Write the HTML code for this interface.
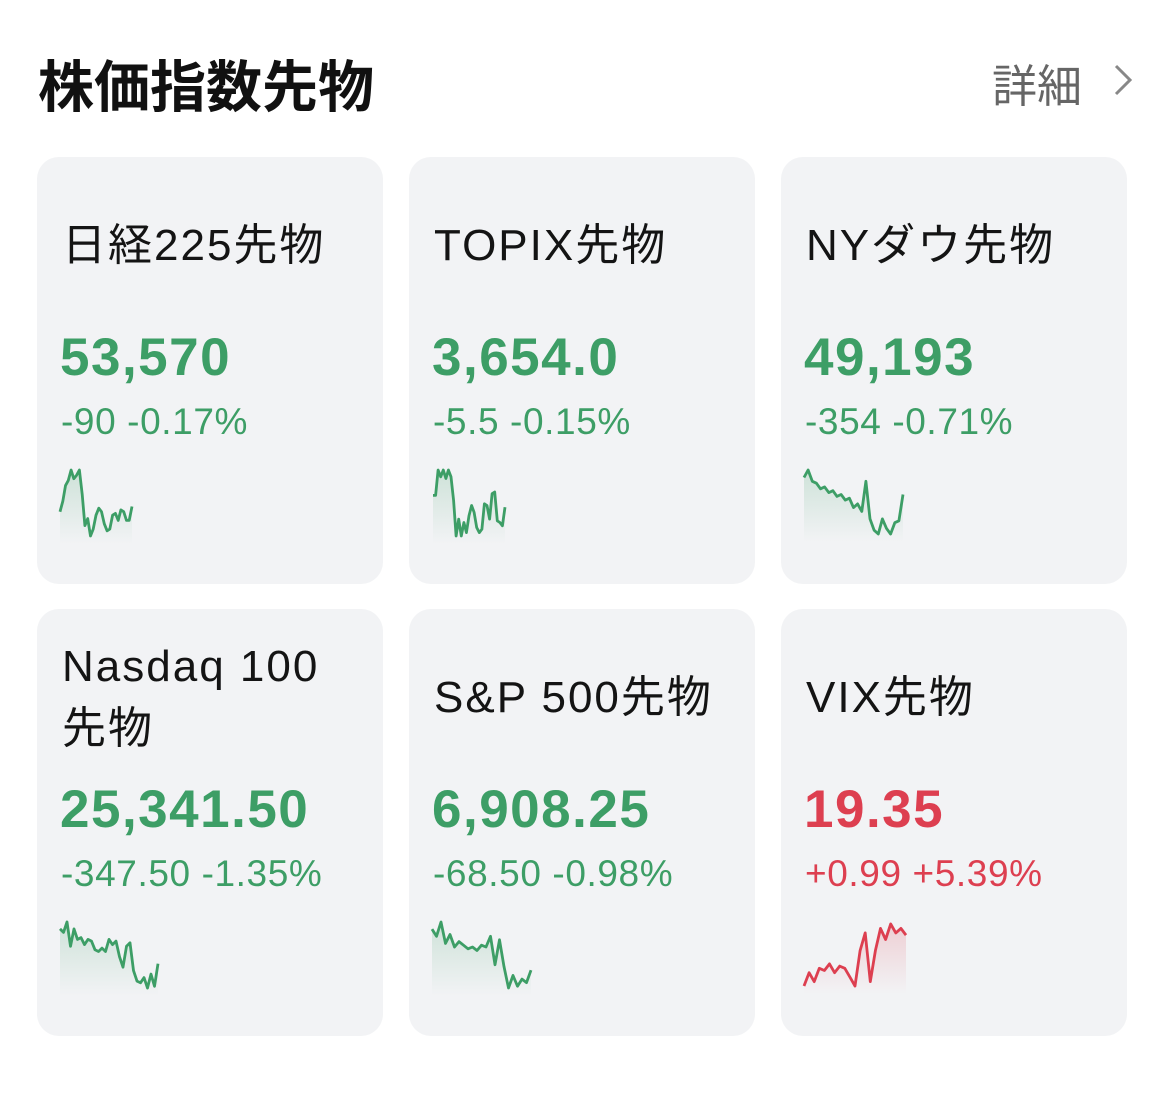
<!DOCTYPE html>
<html><head><meta charset="utf-8">
<style>
body{margin:0;width:1170px;height:1101px;background:#fff;font-family:"Liberation Sans","Noto Sans CJK JP",sans-serif;position:relative;overflow:hidden}
.abs{position:absolute;white-space:nowrap}
.card{position:absolute;width:346px;height:427px;background:#f2f3f5;border-radius:22px}
.t{position:absolute;left:25px;font-size:44px;letter-spacing:2px;color:#141414;line-height:1;white-space:nowrap}
.p{position:absolute;left:23px;font-size:53px;letter-spacing:1.5px;font-weight:bold;line-height:1}
.c{position:absolute;left:24px;font-size:37px;letter-spacing:0.6px;line-height:1}
.g{color:#3d9e66}.r{color:#dd3f50}
svg{position:absolute;left:0;top:0}
</style></head><body>
<div class="abs" style="left:38px;top:43px;font-size:56px;font-weight:bold;color:#111">株価指数先物</div>
<div class="abs" style="left:992px;top:50px;font-size:45px;color:#666">詳細</div>
<svg width="30" height="40" style="left:1110px;top:62px"><polyline points="6,4 20,18 6,32" fill="none" stroke="#888" stroke-width="3"/></svg>

<div class="card" style="left:37px;top:157px">
<div class="t" style="top:67px">日経225先物</div>
<div class="p g" style="top:174px">53,570</div>
<div class="c g" style="top:246px">-90 -0.17%</div></div>
<div class="card" style="left:409px;top:157px">
<div class="t" style="top:67px">TOPIX先物</div>
<div class="p g" style="top:174px">3,654.0</div>
<div class="c g" style="top:246px">-5.5 -0.15%</div></div>
<div class="card" style="left:781px;top:157px">
<div class="t" style="top:67px">NYダウ先物</div>
<div class="p g" style="top:174px">49,193</div>
<div class="c g" style="top:246px">-354 -0.71%</div></div>
<div class="card" style="left:37px;top:609px">
<div class="t" style="top:27px;line-height:62px">Nasdaq 100<br>先物</div>
<div class="p g" style="top:174px">25,341.50</div>
<div class="c g" style="top:246px">-347.50 -1.35%</div></div>
<div class="card" style="left:409px;top:609px">
<div class="t" style="top:67px">S&amp;P 500先物</div>
<div class="p g" style="top:174px">6,908.25</div>
<div class="c g" style="top:246px">-68.50 -0.98%</div></div>
<div class="card" style="left:781px;top:609px">
<div class="t" style="top:67px">VIX先物</div>
<div class="p r" style="top:174px">19.35</div>
<div class="c r" style="top:246px">+0.99 +5.39%</div></div>

<svg id="spark" width="1170" height="1101"></svg>
<script>
const nikkeiSeries=[100,130,175,190,220,195,205,220,150,60,80,30,50,90,110,100,65,45,50,90,95,75,105,100,75,75,115];
const topixSeries=[145,145,220,200,220,195,220,200,130,25,75,25,65,35,85,115,95,50,35,45,120,115,75,150,155,70,65,55,110];
const nydowSeries=[190,210,180,175,160,165,150,155,140,145,130,135,110,120,100,180,80,50,40,80,55,40,70,75,145];
const nasdaqSeries=[190,180,210,140,190,160,165,145,160,155,130,125,135,125,160,145,155,110,80,140,150,70,40,35,50,20,60,25,90];
const spSeries=[190,170,210,150,175,140,155,145,135,140,130,145,140,170,90,160,85,25,60,30,50,40,75];
const vixSeries=[0,30,10,40,35,50,30,45,40,20,0,80,120,10,80,130,105,140,120,130,115];
const charts=[
 {name:'spark-nikkei',data:nikkeiSeries,x:60,w:72,y:470,h:66,col:'#3d9e66'},
 {name:'spark-topix',data:topixSeries,x:433,w:72,y:470,h:66,col:'#3d9e66'},
 {name:'spark-nydow',data:nydowSeries,x:804,w:99,y:470,h:64,col:'#3d9e66'},
 {name:'spark-nasdaq',data:nasdaqSeries,x:60,w:98,y:922,h:66,col:'#3d9e66'},
 {name:'spark-sp500',data:spSeries,x:432,w:99,y:922,h:66,col:'#3d9e66'},
 {name:'spark-vix',data:vixSeries,x:804,w:102,y:924,h:62,col:'#dd3f50'}];
const NS='http://www.w3.org/2000/svg';
const svg=document.getElementById('spark');
const defs=document.createElementNS(NS,'defs');svg.appendChild(defs);
charts.forEach((c,i)=>{
 const mn=Math.min(...c.data),mx=Math.max(...c.data);
 const sx=k=>c.x+k*c.w/(c.data.length-1);
 const sy=v=>c.y+c.h-(v-mn)/(mx-mn)*c.h;
 const pts=c.data.map((v,k)=>sx(k).toFixed(1)+','+sy(v).toFixed(1));
 const gr=document.createElementNS(NS,'linearGradient');
 gr.setAttribute('id','g'+i);gr.setAttribute('x1','0');gr.setAttribute('y1','0');gr.setAttribute('x2','0');gr.setAttribute('y2','1');
 gr.innerHTML='<stop offset="0" stop-color="'+c.col+'" stop-opacity="0.2"/><stop offset="1" stop-color="'+c.col+'" stop-opacity="0"/>';
 defs.appendChild(gr);
 const area=document.createElementNS(NS,'polygon');
 
 
 area.setAttribute('points',pts.join(' ')+' '+sx(c.data.length-1)+','+(c.y+c.h+8)+' '+c.x+','+(c.y+c.h+8));
 area.setAttribute('fill','url(#g'+i+')');svg.appendChild(area);
 const ln=document.createElementNS(NS,'polyline');
 
 
 ln.setAttribute('points',pts.join(' '));ln.setAttribute('fill','none');
 ln.setAttribute('stroke',c.col);ln.setAttribute('stroke-width','2.8');ln.setAttribute('stroke-linejoin','round');
 svg.appendChild(ln);
});
</script>
</body></html>
